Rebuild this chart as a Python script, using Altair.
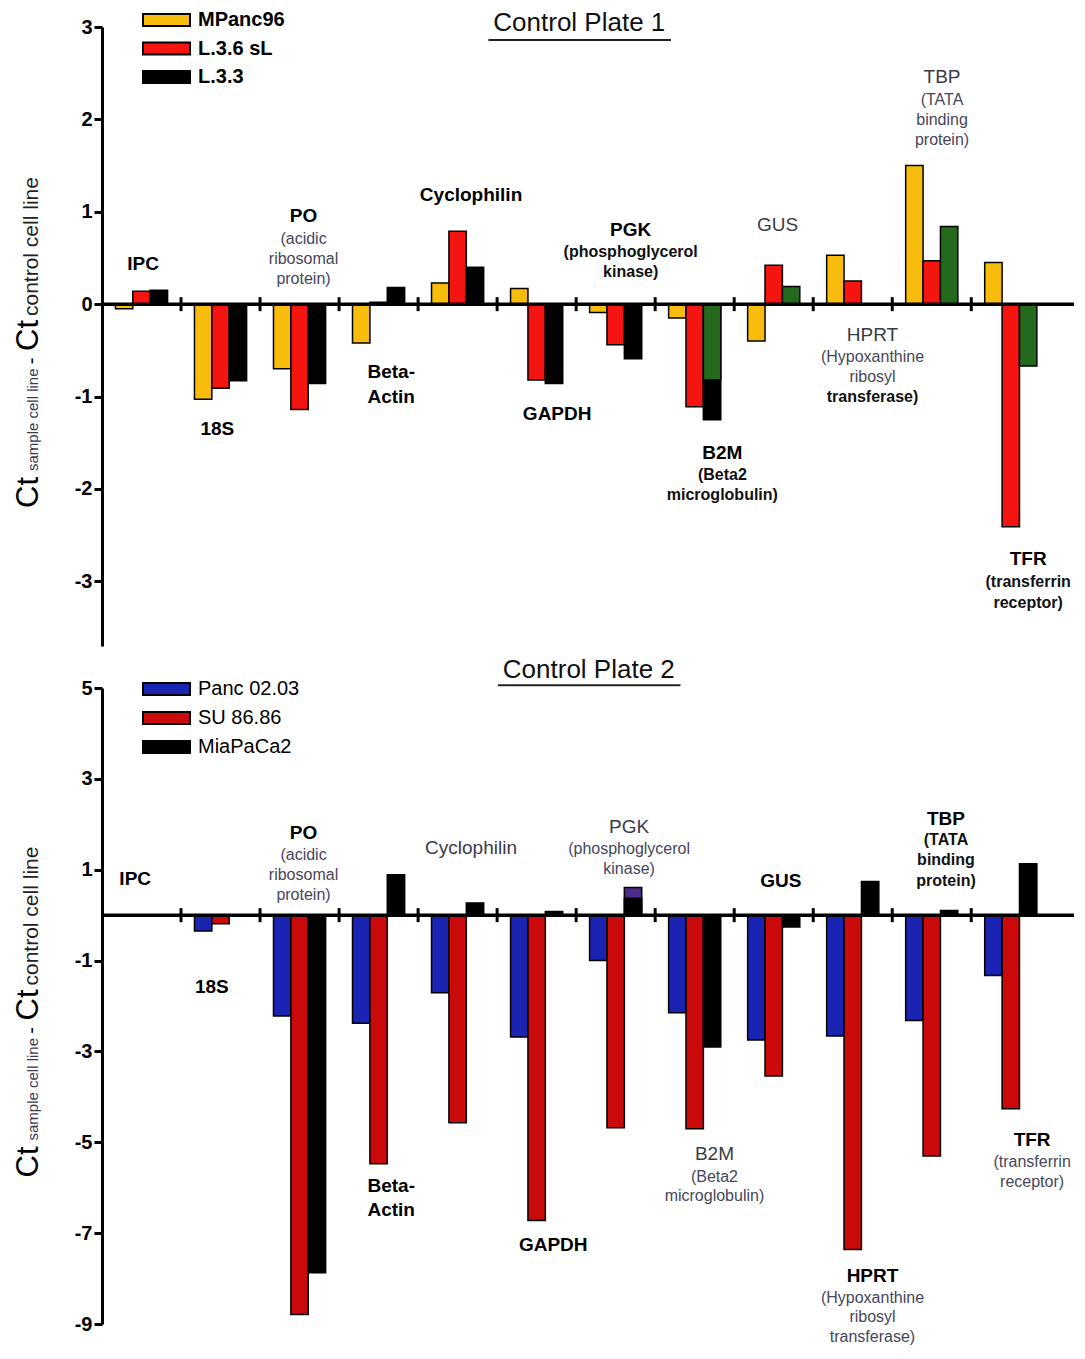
import altair as alt
import pandas as pd

FONT = "Liberation Sans"

genes = ["IPC", "18S", "PO", "Beta-Actin", "Cyclophilin", "GAPDH", "PGK",
         "B2M", "GUS", "HPRT", "TBP", "TFR"]

# ---------------- Control Plate 1 ----------------
p1_names = ["MPanc96", "L.3.6 sL", "L.3.3"]
p1_colors = ["#F8BC0D", "#F41410", "#000000"]
p1_mpanc96 = [-0.05, -1.03, -0.70, -0.42, 0.23, 0.17, -0.09, -0.15, -0.40, 0.53, 1.50, 0.45]
p1_l36sl = [0.14, -0.91, -1.14, 0.02, 0.79, -0.82, -0.44, -1.11, 0.42, 0.25, 0.47, -2.41]
p1_l33 = [0.15, -0.83, -0.86, 0.18, 0.40, -0.86, -0.59, -1.25, None, None, None, None]
p1_l33_green = [None, None, None, None, None, None, None, -0.82, 0.19, None, 0.84, -0.67]
p1_green = "#236A1D"

p1_lbl_text = ["IPC", "18S", "PO", "(acidic", "ribosomal", "protein)", "Beta-", "Actin",
               "Cyclophilin", "GAPDH", "PGK", "(phosphoglycerol", "kinase)", "B2M", "(Beta2",
               "microglobulin)", "GUS", "HPRT", "(Hypoxanthine", "ribosyl", "transferase)",
               "TBP", "(TATA", "binding", "protein)", "TFR", "(transferrin", "receptor)"]
p1_lbl_x = [0.02, 0.96, 2.05, 2.05, 2.05, 2.05, 3.16, 3.16, 4.17, 5.26, 6.19, 6.19, 6.19,
            7.35, 7.35, 7.35, 8.05, 9.25, 9.25, 9.25, 9.25, 10.13, 10.13, 10.13, 10.13,
            11.22, 11.22, 11.22]
p1_lbl_y = [0.44, -1.35, 0.95, 0.70, 0.49, 0.27, -0.73, -1.00, 1.18, -1.19, 0.80, 0.56, 0.35,
            -1.61, -1.85, -2.07, 0.86, -0.33, -0.57, -0.79, -1.01, 2.46, 2.21, 1.99, 1.78,
            -2.76, -3.01, -3.23]
p1_lbl_style = ["B", "B", "B", "r", "r", "r", "B", "B", "B", "B", "B", "b", "b", "B", "b",
                "b", "R", "R", "r", "r", "b", "R", "r", "r", "r", "B", "b", "b"]

# ---------------- Control Plate 2 ----------------
p2_names = ["Panc 02.03", "SU 86.86", "MiaPaCa2"]
p2_colors = ["#1B23B2", "#CB0B0B", "#000000"]
p2_panc = [None, -0.35, -2.22, -2.38, -1.71, -2.68, -1.00, -2.15, -2.75, -2.66, -2.32, -1.33]
p2_su = [None, -0.19, -8.79, -5.47, -4.57, -6.72, -4.68, -4.70, -3.54, -7.36, -5.30, -4.26]
p2_mia = [None, None, -7.87, 0.89, 0.27, 0.08, 0.37, -2.90, -0.26, 0.74, 0.10, 1.13]
p2_mia_purple = [None, None, None, None, None, None, 0.61, None, None, None, None, None]
p2_purple = "#4B2D88"

p2_lbl_text = list(p1_lbl_text)
p2_lbl_x = [-0.08, 0.89, 2.05, 2.05, 2.05, 2.05, 3.16, 3.16, 4.17, 5.21, 6.17, 6.17, 6.17,
            7.25, 7.25, 7.25, 8.09, 9.25, 9.25, 9.25, 9.25, 10.18, 10.18, 10.18, 10.18,
            11.27, 11.27, 11.27]
p2_lbl_y = [0.80, -1.58, 1.80, 1.32, 0.89, 0.45, -5.97, -6.49, 1.47, -7.27, 1.93, 1.45, 1.02,
            -5.26, -5.76, -6.19, 0.76, -7.94, -8.42, -8.85, -9.29, 2.12, 1.65, 1.21, 0.76,
            -4.94, -5.43, -5.87]
p2_lbl_style = ["B", "B", "B", "r", "r", "r", "B", "B", "R", "B", "R", "r", "r", "R", "r",
                "r", "B", "B", "r", "r", "r", "B", "b", "b", "b", "B", "r", "r"]

W = 972
OFFS = [-0.22, 0.0, 0.22]
HALF = 0.11
ONE = pd.DataFrame({"a": [0]})

STYLES = {
    "B": dict(fontSize=19, fontWeight="bold", color="#000000"),
    "R": dict(fontSize=19, fontWeight="normal", color="#3A3A48"),
    "b": dict(fontSize=16, fontWeight="bold", color="#111111"),
    "r": dict(fontSize=16, fontWeight="normal", color="#46465A"),
}


def bars_df(series_vals, colors, slots):
    rows = []
    for vals, col, slot in zip(series_vals, colors, slots):
        for g, v in enumerate(vals):
            if v is None:
                continue
            c = g + OFFS[slot]
            rows.append(dict(gene=genes[g], color=col, x0=c - HALF, x1=c + HALF, v=v))
    return pd.DataFrame(rows)


def panel(main_df, under_df, over_df, lbl, ydom, yvals, H, title, title_xy, uline,
          leg_names, leg_colors, leg_y0, leg_step, leg_weight):
    xs = alt.Scale(domain=[-0.5, 11.8], nice=False, zero=False)
    ys = alt.Scale(domain=ydom, nice=False, zero=False)

    yaxis = alt.Axis(values=yvals, title=None, grid=False, domainColor="black",
                     domainWidth=3, tickColor="black", tickWidth=3, tickSize=8,
                     labelFont=FONT, labelFontSize=20, labelFontWeight="bold",
                     labelColor="black", labelPadding=2,
                     labelExpr="datum.value < 0 ? '-' + abs(datum.value) : '' + datum.value")

    def X(f):
        return alt.X(f, scale=xs, axis=None)

    def Y(f):
        return alt.Y(f, scale=ys, axis=yaxis)

    def barlayer(df):
        return alt.Chart(df).mark_bar(stroke="black", strokeWidth=1.5).encode(
            x=X("x0:Q"), x2="x1:Q", y=Y("v:Q"), y2=alt.datum(0),
            fill=alt.Fill("color:N", scale=None))

    layers = []
    if under_df is not None:
        layers.append(barlayer(under_df))
    layers.append(barlayer(main_df))
    if over_df is not None:
        layers.append(barlayer(over_df))

    # zero line
    layers.append(alt.Chart(pd.DataFrame({"v": [0]})).mark_rule(
        color="black", strokeWidth=3.5).encode(y=Y("v:Q")))
    # group separators on zero line
    sep = pd.DataFrame({"b": [i + 0.5 for i in range(len(genes) - 1)], "v": 0})
    layers.append(alt.Chart(sep).mark_tick(orient="vertical", size=14, thickness=3,
                                           color="black", opacity=1).encode(
        x=X("b:Q"), y=Y("v:Q")))

    # gene labels
    ldf = pd.DataFrame({"t": lbl[0], "gx": lbl[1], "v": lbl[2], "s": lbl[3]})
    for key, st in STYLES.items():
        sub = ldf[ldf.s == key]
        if len(sub) == 0:
            continue
        layers.append(alt.Chart(sub).mark_text(font=FONT, align="center", baseline="middle",
                                               **st).encode(x=X("gx:Q"), y=Y("v:Q"), text="t:N"))

    # panel title + underline
    tdf = pd.DataFrame({"t": [title], "gx": [title_xy[0]], "v": [title_xy[1]]})
    layers.append(alt.Chart(tdf).mark_text(font=FONT, fontSize=26, color="#111111",
                                           align="center", baseline="middle").encode(
        x=X("gx:Q"), y=Y("v:Q"), text="t:N"))
    udf = pd.DataFrame({"a": [uline[0]], "b": [uline[1]], "v": [uline[2]]})
    layers.append(alt.Chart(udf).mark_rule(color="#222222", strokeWidth=2).encode(
        x=X("a:Q"), x2="b:Q", y=Y("v:Q")))

    # legend
    for i, (nm, col) in enumerate(zip(leg_names, leg_colors)):
        yc = leg_y0 + leg_step * i
        layers.append(alt.Chart(ONE).mark_rect(fill=col, stroke="black", strokeWidth=2).encode(
            x=alt.value(41), x2=alt.value(88), y=alt.value(yc - 6), y2=alt.value(yc + 6)))
        layers.append(alt.Chart(ONE).mark_text(text=nm, align="left", baseline="middle",
                                               font=FONT, fontSize=20, fontWeight=leg_weight,
                                               color="black").encode(
            x=alt.value(96), y=alt.value(yc)))

    # y-axis title: Ct(sample cell line) - Ct(control cell line)
    c = H / 2
    pieces = [("Ct", 31, c + 171.5, "left", "#000000"),
              ("sample cell line", 15, c + 134.5, "left", "#3A3A50"),
              ("-", 20, c + 24.5, "center", "#000000"),
              ("Ct", 31, c + 14.5, "left", "#000000"),
              ("control cell line", 21, c - 20.5, "left", "#222222")]
    for txt, fs, yy, al, col in pieces:
        layers.append(alt.Chart(ONE).mark_text(text=txt, angle=270, align=al,
                                               baseline="alphabetic", font=FONT, fontSize=fs,
                                               color=col).encode(
            x=alt.value(-64), y=alt.value(yy)))

    return alt.layer(*layers).properties(width=W, height=H)


p1_main = bars_df([p1_mpanc96, p1_l36sl, p1_l33], p1_colors, [0, 1, 2])
p1_over = bars_df([p1_l33_green], [p1_green], [2])
top = panel(p1_main, None, p1_over,
            (p1_lbl_text, p1_lbl_x, p1_lbl_y, p1_lbl_style),
            [-3.7, 3], [-3, -2, -1, 0, 1, 2, 3], 619,
            "Control Plate 1", (5.54, 3.04), (4.39, 6.70, 2.86),
            p1_names, p1_colors, -7, 28.5, "bold")

p2_main = bars_df([p2_panc, p2_su, p2_mia], p2_colors, [0, 1, 2])
p2_under = bars_df([p2_mia_purple], [p2_purple], [2])
bottom = panel(p2_main, p2_under, None,
               (p2_lbl_text, p2_lbl_x, p2_lbl_y, p2_lbl_style),
               [-9, 5], [5, 3, 1, -1, -3, -5, -7, -9], 636,
               "Control Plate 2", (5.66, 5.39), (4.51, 6.82, 5.06),
               p2_names, p2_colors, 1, 29, "normal")

chart = alt.vconcat(top, bottom, spacing=42, bounds="flush").configure_view(
    strokeWidth=0).properties(padding={"left": 5, "top": 2, "right": 0, "bottom": 0})

chart.save("out.html", embed_options={"renderer": "svg", "actions": False})
